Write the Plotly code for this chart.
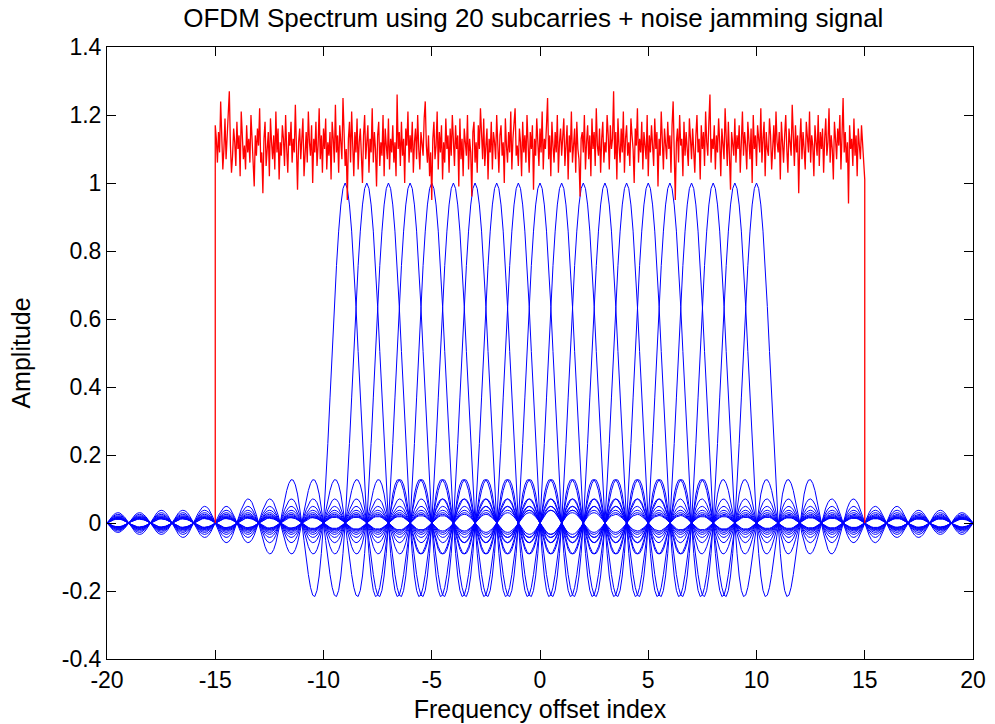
import numpy as np
import plotly.graph_objects as go

# OFDM subcarrier centres (frequency offset index)
subcarrier_index = [-9, -8, -7, -6, -5, -4, -3, -2, -1, 0,
                    1, 2, 3, 4, 5, 6, 7, 8, 9, 10]

# frequency axis sampling for the subcarrier spectra
freq_start, freq_stop, freq_step = -20.0, 20.0, 0.1

# jamming band edges
jam_start, jam_stop = -15.0, 15.0

# noise jamming amplitude across the jammed band (601 samples, -15 .. 15)
jam_amplitude = [
    1.17, 1.13, 1.06, 1.15, 1.09, 1.24, 1.12, 1.04, 1.10, 1.19, 1.07, 1.14, 1.20, 1.27, 1.11, 1.03, 1.08, 1.16, 1.12, 1.05,
    1.18, 1.10, 1.14, 1.02, 1.21, 1.15, 1.07, 1.11, 1.04, 1.17, 1.09, 1.13, 1.06, 1.20, 1.12, 1.03, 0.99, 1.14, 1.08, 1.16,
    1.11, 1.22, 1.06, 1.09, 0.97, 1.13, 1.18, 1.05, 1.10, 1.15, 1.02, 1.19, 1.12, 1.07, 1.14, 1.04, 1.21, 1.09, 1.16, 1.01,
    1.12, 1.08, 1.17, 1.13, 1.05, 1.20, 1.10, 1.03, 1.15, 1.11, 1.18, 1.06, 1.13, 1.09, 1.23, 1.04, 0.98, 1.12, 1.16, 1.07,
    1.14, 1.19, 1.02, 1.10, 1.15, 1.06, 1.21, 1.12, 1.08, 1.17, 1.00, 1.13, 1.09, 1.18, 1.05, 1.11, 1.22, 1.07, 1.14, 1.03,
    1.16, 1.10, 1.19, 1.04, 1.12, 1.08, 1.15, 1.01, 1.18, 1.13, 1.06, 1.23, 1.09, 1.14, 1.03, 1.17, 1.11, 1.07, 1.25, 1.12,
    1.05, 1.10, 0.95, 1.13, 1.18, 1.06, 1.21, 1.11, 1.02, 1.15, 1.09, 1.19, 1.04, 1.12, 1.16, 1.08, 1.00, 1.14, 1.20, 1.07,
    1.11, 1.17, 1.03, 1.13, 1.09, 1.22, 1.06, 1.15, 1.10, 0.99, 1.14, 1.18, 1.05, 1.12, 1.08, 1.20, 1.02, 1.16, 1.11, 1.07,
    1.19, 1.04, 1.13, 1.09, 1.17, 1.06, 1.12, 1.02, 1.26, 1.10, 1.15, 1.05, 1.18, 1.08, 1.13, 1.00, 1.16, 1.11, 1.21, 1.06,
    1.14, 1.09, 1.18, 1.03, 1.12, 1.16, 1.07, 1.20, 1.10, 1.04, 1.15, 1.12, 1.08, 1.19, 1.24, 1.11, 1.06, 1.14, 1.02, 1.09,
    0.95, 1.13, 1.18, 1.07, 1.11, 1.21, 1.04, 1.15, 1.09, 1.17, 1.01, 1.12, 1.06, 1.19, 1.10, 1.14, 1.03, 1.16, 1.08, 1.20,
    1.12, 1.05, 1.17, 1.10, 1.14, 0.99, 1.19, 1.07, 1.13, 1.02, 1.16, 1.11, 1.08, 1.20, 1.04, 1.13, 1.09, 0.96, 1.15, 1.18,
    1.06, 1.12, 1.03, 1.17, 1.10, 1.22, 1.14, 1.07, 1.19, 1.05, 1.11, 1.16, 1.01, 1.13, 1.09, 1.18, 1.04, 1.15, 1.12, 1.07,
    1.20, 1.10, 1.03, 1.14, 1.17, 1.08, 1.12, 1.00, 1.19, 1.11, 1.06, 1.15, 1.09, 1.21, 1.04, 1.13, 1.17, 1.22, 1.08, 1.11,
    1.05, 1.16, 1.12, 1.02, 1.18, 1.09, 1.14, 1.06, 1.20, 1.11, 1.03, 1.15, 1.10, 1.17, 0.98, 1.13, 1.08, 1.19, 1.12, 1.05,
    1.16, 1.09, 1.21, 1.04, 1.13, 1.10, 1.17, 1.25, 1.07, 1.14, 1.02, 1.18, 1.11, 1.06, 1.15, 1.09, 1.20, 1.03, 1.12, 1.16,
    1.08, 1.13, 1.19, 1.05, 1.11, 1.17, 1.01, 1.14, 1.09, 1.21, 1.06, 1.12, 1.16, 1.03, 1.18, 1.10, 1.07, 0.96, 1.13, 1.15,
    1.09, 1.20, 1.04, 1.12, 1.17, 1.07, 1.14, 1.02, 1.19, 1.10, 1.15, 1.05, 1.22, 1.11, 1.08, 1.16, 1.03, 1.13, 1.18, 1.06,
    1.12, 1.09, 1.20, 1.14, 1.04, 1.17, 1.10, 1.13, 1.27, 1.07, 1.15, 1.01, 1.19, 1.11, 1.06, 1.16, 1.09, 1.21, 1.03, 1.13,
    1.17, 1.08, 1.12, 1.05, 1.19, 1.14, 1.10, 1.00, 1.16, 1.11, 1.22, 1.06, 1.13, 1.09, 1.18, 1.04, 1.15, 1.11, 1.07, 1.20,
    1.02, 1.14, 1.09, 1.17, 1.12, 1.05, 1.19, 1.10, 1.15, 0.99, 1.13, 1.08, 1.21, 1.11, 1.04, 1.16, 1.12, 1.07, 1.18, 1.10,
    1.14, 1.03, 1.17, 1.24, 1.09, 0.95, 1.12, 1.16, 1.06, 1.20, 1.11, 1.13, 1.02, 1.18, 1.08, 1.15, 1.10, 1.05, 1.19, 1.12,
    1.07, 1.16, 1.11, 1.03, 1.14, 1.20, 1.09, 1.13, 1.01, 1.17, 1.10, 1.15, 1.05, 1.21, 1.12, 1.08, 1.18, 1.26, 1.06, 1.13,
    1.10, 1.17, 1.04, 1.14, 1.09, 1.19, 1.12, 1.02, 1.16, 1.11, 1.07, 1.22, 1.13, 1.05, 1.18, 1.10, 0.98, 1.15, 1.12, 1.08,
    1.19, 1.06, 1.14, 1.10, 1.17, 1.03, 1.12, 1.21, 1.08, 1.15, 1.11, 1.04, 1.18, 1.13, 1.07, 1.16, 1.00, 1.20, 1.10, 1.14,
    1.05, 1.17, 1.12, 1.09, 1.22, 1.06, 1.13, 1.18, 1.02, 1.15, 1.10, 1.08, 1.19, 1.14, 1.04, 1.11, 1.17, 1.07, 1.21, 1.12,
    1.09, 1.15, 1.01, 1.18, 1.12, 1.06, 1.14, 1.20, 1.10, 1.03, 1.16, 1.11, 1.08, 1.23, 1.13, 1.05, 1.17, 1.09, 1.14, 0.97,
    1.12, 1.19, 1.07, 1.15, 1.10, 1.04, 1.18, 1.13, 1.09, 1.21, 1.06, 1.14, 1.11, 1.02, 1.17, 1.12, 1.08, 1.20, 1.05, 1.15,
    1.10, 1.16, 1.03, 1.13, 1.19, 1.08, 1.12, 1.22, 1.06, 1.14, 1.10, 1.01, 1.18, 1.13, 1.07, 1.16, 1.11, 1.20, 1.04, 1.14,
    1.25, 1.09, 1.15, 1.06, 1.12, 0.94, 1.17, 1.10, 1.13, 1.05, 1.19, 1.08, 1.14, 1.02, 1.16, 1.11, 1.07, 1.17, 1.12, 1.04,
    1.01,
]

x_ticks = [-20, -15, -10, -5, 0, 5, 10, 15, 20]
x_tick_text = ["-20", "-15", "-10", "-5", "0", "5", "10", "15", "20"]
y_ticks = [-0.4, -0.2, 0, 0.2, 0.4, 0.6, 0.8, 1, 1.2, 1.4]
y_tick_text = ["-0.4", "-0.2", "0", "0.2", "0.4", "0.6", "0.8", "1", "1.2", "1.4"]

FONT = "Liberation Sans, Arial, sans-serif"

freq = np.arange(freq_start, freq_stop + freq_step / 2, freq_step)

fig = go.Figure()

# one sinc-shaped spectrum per subcarrier
for k in subcarrier_index:
    fig.add_trace(go.Scatter(
        x=freq, y=np.sinc(freq - k), mode="lines",
        line=dict(color="#0000FF", width=1),
        showlegend=False, hoverinfo="skip",
    ))

# noise jammer: rises from zero at the band edges
n_jam = len(jam_amplitude)
jam_freq = np.linspace(jam_start, jam_stop, n_jam)
jam_x = np.concatenate([[jam_start], jam_freq, [jam_stop]])
jam_y = np.concatenate([[0.0], jam_amplitude, [0.0]])
fig.add_trace(go.Scatter(
    x=jam_x, y=jam_y, mode="lines",
    line=dict(color="#FF0000", width=1.3),
    showlegend=False, hoverinfo="skip",
))

axis_common = dict(
    showgrid=False, zeroline=False, automargin=False,
    showline=True, linecolor="#000000", linewidth=1, mirror="ticks",
    ticks="inside", ticklen=9, tickwidth=1, tickcolor="#000000",
    tickfont=dict(family=FONT, size=23, color="#000000"),
)

fig.update_layout(
    width=995, height=724,
    margin=dict(l=107, r=22, t=47, b=65),
    paper_bgcolor="#FFFFFF", plot_bgcolor="#FFFFFF",
    title=dict(
        text="OFDM Spectrum using 20 subcarries + noise jamming signal",
        font=dict(family=FONT, size=26, color="#000000"),
        x=0.536, xanchor="center", y=0.975, yanchor="middle",
    ),
    xaxis=dict(
        range=[-20, 20], tickvals=x_ticks, ticktext=x_tick_text,
        title=dict(text="Frequency offset index",
                   font=dict(family=FONT, size=25, color="#000000"), standoff=8),
        **axis_common,
    ),
    yaxis=dict(
        range=[-0.4, 1.4], tickvals=y_ticks, ticktext=y_tick_text,
        title=dict(text="Amplitude",
                   font=dict(family=FONT, size=25, color="#000000"), standoff=24),
        **axis_common,
    ),
)

fig.write_html("out.html")
